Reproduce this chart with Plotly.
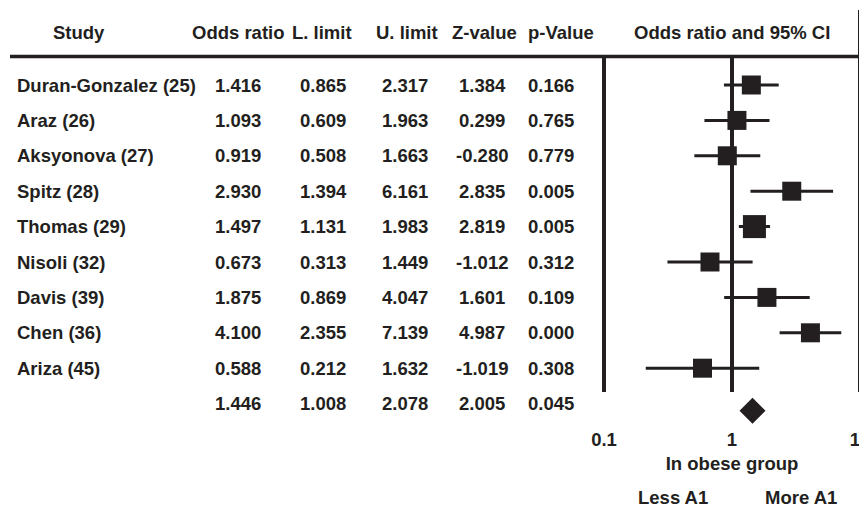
import plotly.graph_objects as go

# ---------------- data ----------------
studies = ["Duran-Gonzalez (25)", "Araz (26)", "Aksyonova (27)", "Spitz (28)",
           "Thomas (29)", "Nisoli (32)", "Davis (39)", "Chen (36)", "Ariza (45)"]
odds_ratio = [1.416, 1.093, 0.919, 2.930, 1.497, 0.673, 1.875, 4.100, 0.588]
lower_limit = [0.865, 0.609, 0.508, 1.394, 1.131, 0.313, 0.869, 2.355, 0.212]
upper_limit = [2.317, 1.963, 1.663, 6.161, 1.983, 1.449, 4.047, 7.139, 1.632]
z_value = [1.384, 0.299, -0.280, 2.835, 2.819, -1.012, 1.601, 4.987, -1.019]
p_value = [0.166, 0.765, 0.779, 0.005, 0.005, 0.312, 0.109, 0.000, 0.308]

summary_or = 1.446
summary_lower = 1.008
summary_upper = 2.078
summary_z = 2.005
summary_p = 0.045

column_headers = ["Study", "Odds ratio", "L. limit", "U. limit", "Z-value", "p-Value"]
plot_header = "Odds ratio and 95% CI"
x_tick_values = [0.1, 1, 10]
x_tick_labels = ["0.1", "1", "10"]
x_axis_title = "In obese group"
direction_labels = ["Less A1", "More A1"]

# ---------------- style / layout ----------------
OFF = 8                      # page body margin of the html page
FIG_W, FIG_H = 880, 507 - OFF
INK = "#231f20"
FONT = dict(family="Liberation Sans, Arial, Helvetica, sans-serif", size=18.5,
            color=INK, weight="bold")
ROW0_PX, ROW_STEP = 85, 35.4
box_px = [19, 19, 19, 19, 23, 19, 19, 19, 19]   # study box sizes (px)


def px_x(px):
    return (px - OFF) / FIG_W


def px_y(px):
    return 1 - (px - OFF) / FIG_H


n = len(studies)
rows = list(range(n))
summary_row = n

col_centres = [238, 323, 405, 482, 551]
header_centres = [79, 238, 322, 407, 484, 561]

fig = go.Figure()

# confidence interval whiskers
ci_x, ci_y = [], []
for lo, hi, r in zip(lower_limit, upper_limit, rows):
    ci_x += [lo, hi, None]
    ci_y += [r, r, None]
fig.add_trace(go.Scatter(x=ci_x, y=ci_y, mode="lines",
                         line=dict(color=INK, width=3), hoverinfo="skip",
                         showlegend=False))

# study boxes
fig.add_trace(go.Scatter(x=odds_ratio, y=rows, mode="markers",
                         marker=dict(symbol="square", size=box_px, color=INK,
                                     opacity=1, line=dict(width=0)),
                         showlegend=False, cliponaxis=False))

# summary diamond
fig.add_trace(go.Scatter(x=[summary_or], y=[summary_row + 0.2], mode="markers",
                         marker=dict(symbol="diamond", size=20, color=INK,
                                     opacity=1, line=dict(width=0)),
                         showlegend=False, cliponaxis=False))

annotations = []
for txt, cx in zip(column_headers, header_centres):
    annotations.append(dict(text=txt, x=px_x(cx), y=px_y(32), xref="paper", yref="paper",
                            xanchor="center", yanchor="middle", showarrow=False, font=FONT))
annotations.append(dict(text=plot_header, x=px_x(732), y=px_y(32), xref="paper", yref="paper",
                        xanchor="center", yanchor="middle", showarrow=False, font=FONT))

table_rows = list(zip(studies, odds_ratio, lower_limit, upper_limit, z_value, p_value))
table_rows.append(("", summary_or, summary_lower, summary_upper, summary_z, summary_p))
for r, row in enumerate(table_rows):
    name = row[0]
    if name:
        annotations.append(dict(text=name, x=px_x(15), y=r, xref="paper", yref="y",
                                xanchor="left", yanchor="middle", showarrow=False, font=FONT))
    for val, cx in zip(row[1:], col_centres):
        annotations.append(dict(text=f"{val:.3f}", x=px_x(cx), y=r, xref="paper", yref="y",
                                xanchor="center", yanchor="middle", showarrow=False, font=FONT))

for txt, cx in zip(direction_labels, [673, 801]):
    annotations.append(dict(text=txt, x=px_x(cx), y=px_y(497), xref="paper", yref="paper",
                            xanchor="center", yanchor="middle", showarrow=False, font=FONT))

shapes = [
    dict(type="line", xref="paper", yref="paper", x0=px_x(10), x1=1,
         y0=px_y(56.5), y1=px_y(56.5), line=dict(color=INK, width=3.5)),
]
tops = [57, 57, 10]
for v, top in zip(x_tick_values, tops):
    shapes.append(dict(type="line", xref="x", yref="paper", x0=v, x1=v,
                       y0=px_y(392), y1=px_y(top), line=dict(color=INK, width=4)))

fig.update_layout(
    width=FIG_W, height=FIG_H,
    margin=dict(l=0, r=0, t=0, b=0),
    paper_bgcolor="white", plot_bgcolor="white",
    template="none",
    showlegend=False,
    annotations=annotations,
    shapes=shapes,
    xaxis=dict(type="log", range=[-1.05, 1.05],
               domain=[px_x(597.6), px_x(866.4)],
               anchor="free", position=px_y(392),
               tickvals=x_tick_values, ticktext=x_tick_labels,
               tickfont=FONT, ticks="", showline=False, showgrid=False, zeroline=False,
               ticklabelstandoff=34, ticklabeloverflow="allow", automargin=False,
               title=dict(text=x_axis_title, font=FONT, standoff=8)),
    yaxis=dict(range=[(507 - ROW0_PX) / ROW_STEP, (OFF - ROW0_PX) / ROW_STEP],
               domain=[0, 1], visible=False, showgrid=False, zeroline=False,
               automargin=False),
)

fig.write_html("out.html")
